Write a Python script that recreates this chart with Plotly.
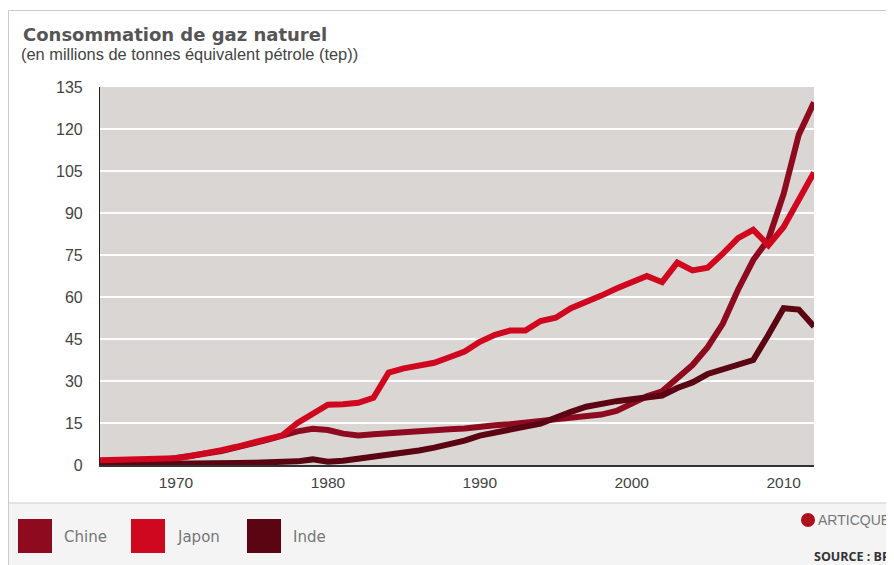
import plotly.graph_objects as go

years = list(range(1965, 2013))

chine = [0.9, 1.2, 1.2, 1.2, 1.6, 2.5, 3.3, 4.1, 5.0, 6.3,
         7.5, 9.0, 10.5, 12.0, 12.9, 12.5, 11.2, 10.5, 11.0, 11.4,
         11.6, 12.4, 12.5, 12.8, 13.0, 13.8, 14.2, 14.6, 15.2, 15.4,
         15.9, 16.5, 17.3, 18.0, 19.3, 22.0, 24.5, 26.3, 31.0, 35.7,
         42.1, 50.5, 62.6, 73.2, 80.6, 96.8, 118.0, 129.5]

japon = [1.7, 1.8, 1.8, 1.9, 2.0, 2.4, 3.2, 4.0, 5.3, 6.5,
         7.7, 9.0, 10.6, 15.0, 18.5, 21.5, 21.7, 22.2, 24.0, 33.0,
         34.5, 35.5, 36.5, 38.5, 40.5, 44.0, 46.5, 48.0, 48.0, 51.4,
         52.6, 56.0, 58.0, 60.5, 63.0, 65.0, 67.5, 65.3, 72.3, 69.5,
         70.5, 75.5, 81.0, 84.0, 78.5, 85.0, 94.5, 104.5]

inde = [0.2, 0.2, 0.3, 0.3, 0.4, 0.5, 0.5, 0.6, 0.6, 0.7,
        0.8, 0.9, 1.0, 1.3, 2.0, 1.2, 1.5, 2.2, 2.8, 3.5,
        4.2, 5.2, 6.2, 7.3, 8.7, 10.5, 11.7, 13.0, 13.7, 14.8,
        17.0, 19.0, 20.8, 22.0, 22.8, 23.5, 24.0, 24.8, 27.5, 29.5,
        32.5, 34.0, 36.0, 37.5, 46.5, 56.0, 55.5, 49.5]

series_names = ["Chine", "Japon", "Inde"]
series_colors = ["#8E0A1F", "#D0081F", "#5A0511"]
y_ticks = [0, 15, 30, 45, 60, 75, 90, 105, 120, 135]
x_ticks = [1970, 1980, 1990, 2000, 2010]

# the page body adds an 8px offset, so work in page pixels and subtract it
OFF = 8
W, H = 894 - OFF, 565 - OFF
L, R, T, B = 100 - OFF, 814 - OFF, 87 - OFF, 465 - OFF

def px(x):
    return (x - OFF - L) / (R - L)

def py(y):
    return (B - (y - OFF)) / (B - T)

fig = go.Figure()
data = {"Chine": chine, "Japon": japon, "Inde": inde}
for name in ["Chine", "Inde", "Japon"]:
    c = series_colors[series_names.index(name)]
    fig.add_trace(go.Scatter(x=years, y=data[name], mode="lines", name=name,
                             line=dict(color=c, width=6), showlegend=False,
                             hoverinfo="skip"))

shapes = []
shapes.append(dict(type="rect", xref="paper", yref="paper",
                   x0=px(9), x1=px(900), y0=py(570), y1=py(503),
                   fillcolor="#F4F4F4", line=dict(width=0), layer="below"))
shapes.append(dict(type="line", xref="paper", yref="paper",
                   x0=px(8), x1=px(900), y0=py(503), y1=py(503),
                   line=dict(color="#DDDDDD", width=1.5)))
shapes.append(dict(type="line", xref="paper", yref="paper",
                   x0=px(8), x1=px(900), y0=py(10.5), y1=py(10.5),
                   line=dict(color="#CCCCCC", width=1)))
shapes.append(dict(type="line", xref="paper", yref="paper",
                   x0=px(8.5), x1=px(8.5), y0=py(10), y1=py(570),
                   line=dict(color="#CCCCCC", width=1)))

annotations = []
leg_x = [18, 131, 247]
for i, name in enumerate(series_names):
    x0 = leg_x[i]
    shapes.append(dict(type="rect", xref="paper", yref="paper",
                       x0=px(x0), x1=px(x0 + 34), y0=py(553), y1=py(519),
                       fillcolor=series_colors[i], line=dict(width=0)))
    annotations.append(dict(text=name, xref="paper", yref="paper",
                            x=px(x0 + 44), y=py(537), xanchor="left", yanchor="middle",
                            showarrow=False,
                            font=dict(family="DejaVu Sans", size=15, color="#777777")))

annotations.append(dict(text="<b>Consommation de gaz naturel</b>", xref="paper", yref="paper",
                        x=px(21), y=py(35), xanchor="left", yanchor="middle", showarrow=False,
                        font=dict(family="DejaVu Sans", size=18, color="#555555")))
annotations.append(dict(text="(en millions de tonnes équivalent pétrole (tep))", xref="paper", yref="paper",
                        x=px(19), y=py(54), xanchor="left", yanchor="middle", showarrow=False,
                        font=dict(family="Liberation Sans", size=16.4, color="#444444")))
shapes.append(dict(type="circle", xref="paper", yref="paper",
                   x0=px(801), x1=px(815), y0=py(527), y1=py(513),
                   fillcolor="#B0101E", line=dict(width=0)))
annotations.append(dict(text="ARTICQUE", xref="paper", yref="paper",
                        x=px(892), y=py(520), xanchor="right", yanchor="middle", showarrow=False,
                        font=dict(family="Liberation Sans", size=14, color="#777777")))
annotations.append(dict(text="<b>SOURCE : BP</b>", xref="paper", yref="paper",
                        x=px(892), y=py(556), xanchor="right", yanchor="middle", showarrow=False,
                        font=dict(family="Open Sans", size=12.5, color="#333333")))

fig.update_layout(
    width=W, height=H,
    margin=dict(l=L, r=W - R, t=T, b=H - B, pad=0),
    paper_bgcolor="white",
    plot_bgcolor="#D9D6D4",
    shapes=shapes,
    annotations=annotations,
    showlegend=False,
    xaxis=dict(range=[1965, 2012], tickvals=x_ticks, showgrid=False, zeroline=False,
               showline=True, linecolor="#333333", linewidth=1.5,
               ticks="", tickfont=dict(family="Liberation Sans", size=15.5, color="#444444"),
               ticklabelstandoff=3),
    yaxis=dict(range=[0, 135], tickvals=y_ticks, showgrid=True, gridcolor="#FFFFFF",
               gridwidth=1.5, zeroline=False, showline=True, linecolor="#222222", linewidth=1.2,
               ticks="", tickfont=dict(family="Liberation Sans", size=16, color="#444444"),
               ticklabelstandoff=13),
)

fig.write_html("out.html")
